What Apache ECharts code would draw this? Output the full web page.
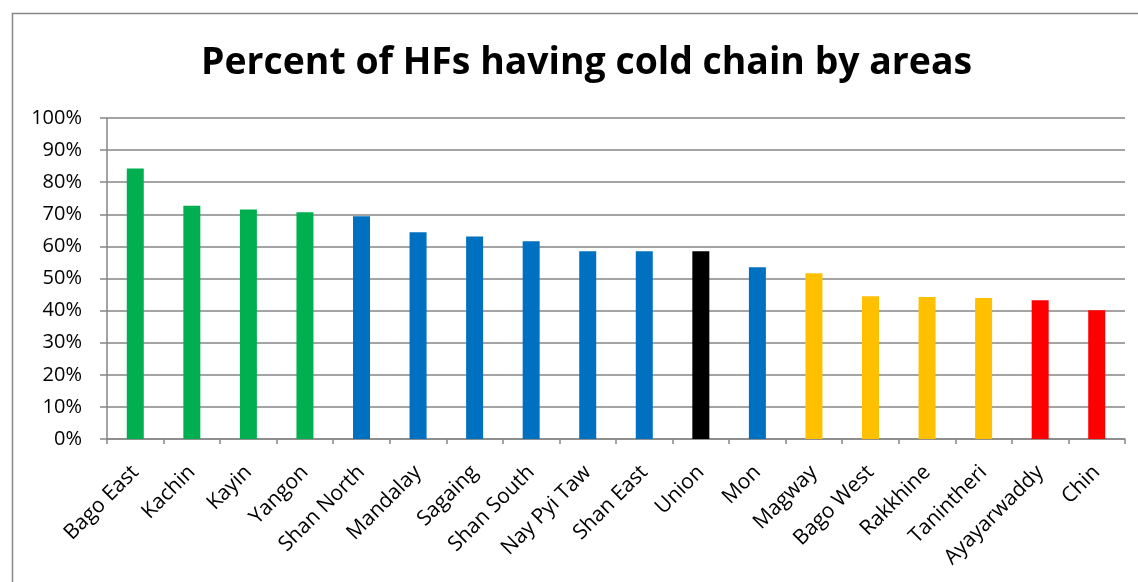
<!DOCTYPE html>
<html>
<head>
<meta charset="utf-8">
<script src="https://cdn.jsdelivr.net/npm/echarts@6/dist/echarts.min.js"></script>
<style>
  html, body { margin: 0; padding: 0; background: #fff; }
  #chart { width: 1138px; height: 582px; }
</style>
</head>
<body>
<div id="chart"></div>
<script>
// Areas, ordered as plotted
const areas = ['Bago East', 'Kachin', 'Kayin', 'Yangon', 'Shan North', 'Mandalay', 'Sagaing',
  'Shan South', 'Nay Pyi Taw', 'Shan East', 'Union', 'Mon', 'Magway', 'Bago West',
  'Rakkhine', 'Tanintheri', 'Ayayarwaddy', 'Chin'];

// Percent of health facilities having cold chain
const percentWithColdChain = [84.3, 72.7, 71.5, 70.6, 69.4, 64.4, 63.1, 61.6, 58.5, 58.5,
  58.5, 53.5, 51.6, 44.5, 44.2, 43.9, 43.2, 40.1];

// Performance band for each area
const bands = ['top', 'top', 'top', 'top', 'upper', 'upper', 'upper', 'upper', 'upper', 'upper',
  'union', 'upper', 'lower', 'lower', 'lower', 'lower', 'bottom', 'bottom'];

// Y-axis tick values
const yTicks = [0, 10, 20, 30, 40, 50, 60, 70, 80, 90, 100];

const bandColor = {
  top: '#00B050',
  upper: '#0070C0',
  union: '#000000',
  lower: '#FFC000',
  bottom: '#FF0000'
};

const FONT = '"Open Sans", Lato, sans-serif';
const GREY = '#868686';

const chart = echarts.init(document.getElementById('chart'), null, { renderer: 'canvas' });

chart.setOption({
  animation: false,
  backgroundColor: '#ffffff',
  title: {
    text: 'Percent of HFs having cold chain by areas',
    left: 196,
    top: 40,
    textStyle: { fontFamily: FONT, fontWeight: 'bold', fontSize: 37.4, color: '#000' }
  },
  graphic: [{
    type: 'rect',
    shape: { x: 12.5, y: 13.5, width: 1200, height: 700 },
    style: { fill: null, stroke: GREY, lineWidth: 1.5 },
    silent: true,
    z: -1
  }],
  grid: { left: 107, right: 13, top: 118, bottom: 143, containLabel: false },
  xAxis: {
    type: 'category',
    data: areas,
    axisLine: { lineStyle: { color: GREY, width: 1.5 } },
    axisTick: { show: true, alignWithLabel: false, length: 5, lineStyle: { color: GREY, width: 1.5 } },
    axisLabel: {
      rotate: 45,
      interval: 0,
      margin: 30,
      fontFamily: FONT,
      fontSize: 21,
      color: '#000'
    }
  },
  yAxis: {
    type: 'value',
    min: yTicks[0],
    max: yTicks[yTicks.length - 1],
    interval: yTicks[1] - yTicks[0],
    axisLine: { show: true, lineStyle: { color: GREY, width: 1.5 } },
    axisTick: { show: true, length: 7, lineStyle: { color: GREY, width: 1.5 } },
    axisLabel: {
      formatter: v => v + '%',
      margin: 25,
      fontFamily: FONT,
      fontSize: 20,
      color: '#000'
    },
    splitLine: { show: true, lineStyle: { color: GREY, width: 1.5 } }
  },
  series: [{
    type: 'bar',
    barWidth: 17,
    data: percentWithColdChain.map((v, i) => ({
      value: v,
      itemStyle: { color: bandColor[bands[i]] }
    }))
  }]
});
</script>
</body>
</html>
